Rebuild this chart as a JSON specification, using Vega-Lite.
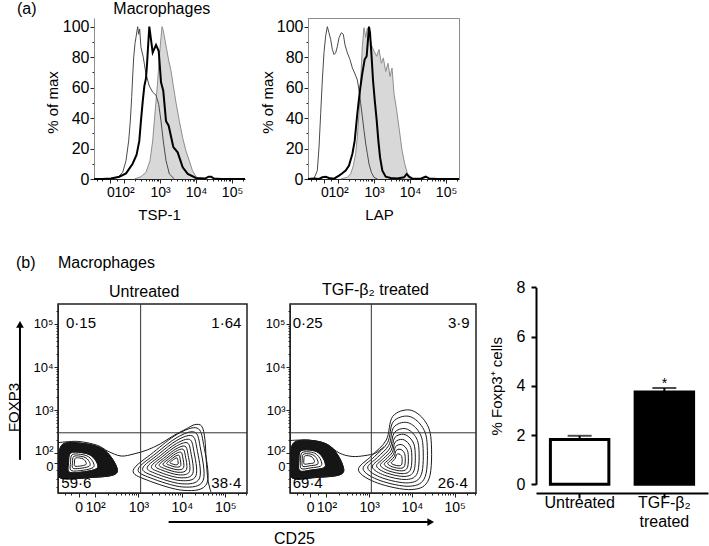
{
  "$schema": "https://vega.github.io/schema/vega-lite/v6.json",
  "background": "white",
  "padding": {"left": 5, "top": 1, "right": 5, "bottom": 5},
  "config": {
    "font": "Liberation Sans",
    "view": {"stroke": null},
    "axis": {"labelColor": "black", "titleColor": "black", "tickColor": "#222", "domainColor": "#222", "grid": false, "titleFontWeight": "normal", "labelFont": "Liberation Sans", "titleFont": "Liberation Sans"},
    "title": {"fontSize": 16, "fontWeight": "normal", "color": "black", "font": "Liberation Sans"}
  },
  "datasets": {
    "h1": [
      {"c":"iso","x":1.6,"y":0},{"c":"iso","x":1.825,"y":1},{"c":"iso","x":1.964,"y":4.4},{"c":"iso","x":2.056,"y":12},{"c":"iso","x":2.13,"y":25},{"c":"iso","x":2.175,"y":38},{"c":"iso","x":2.214,"y":54},{"c":"iso","x":2.24,"y":67},{"c":"iso","x":2.27,"y":80},{"c":"iso","x":2.306,"y":89},{"c":"iso","x":2.333,"y":93},{"c":"iso","x":2.38,"y":100},{"c":"iso","x":2.407,"y":95},{"c":"iso","x":2.435,"y":98.5},{"c":"iso","x":2.47,"y":86.5},{"c":"iso","x":2.535,"y":80},{"c":"iso","x":2.61,"y":69},{"c":"iso","x":2.703,"y":61},{"c":"iso","x":2.797,"y":57},{"c":"iso","x":2.889,"y":55},{"c":"iso","x":2.964,"y":49},{"c":"iso","x":3.028,"y":38},{"c":"iso","x":3.09,"y":25},{"c":"iso","x":3.167,"y":12},{"c":"iso","x":3.26,"y":3.3},{"c":"iso","x":3.4,"y":0},
      {"c":"fill","x":2.287,"y":0},{"c":"fill","x":2.47,"y":1.5},{"c":"fill","x":2.61,"y":4.4},{"c":"fill","x":2.722,"y":12},{"c":"fill","x":2.797,"y":25},{"c":"fill","x":2.842,"y":38},{"c":"fill","x":2.889,"y":51},{"c":"fill","x":2.936,"y":64.5},{"c":"fill","x":2.98,"y":80},{"c":"fill","x":3.028,"y":93},{"c":"fill","x":3.056,"y":100},{"c":"fill","x":3.09,"y":97.4},{"c":"fill","x":3.14,"y":91},{"c":"fill","x":3.186,"y":85},{"c":"fill","x":3.24,"y":78},{"c":"fill","x":3.306,"y":71},{"c":"fill","x":3.37,"y":61},{"c":"fill","x":3.445,"y":50},{"c":"fill","x":3.536,"y":38},{"c":"fill","x":3.63,"y":27},{"c":"fill","x":3.72,"y":18.5},{"c":"fill","x":3.814,"y":12},{"c":"fill","x":3.9,"y":5.5},{"c":"fill","x":4.0,"y":1.5},{"c":"fill","x":4.09,"y":0},
      {"c":"trt","x":1.167,"y":0},{"c":"trt","x":1.4,"y":0},{"c":"trt","x":1.639,"y":0.3},{"c":"trt","x":1.87,"y":1.5},{"c":"trt","x":2.056,"y":3.7},{"c":"trt","x":2.24,"y":10},{"c":"trt","x":2.35,"y":16},{"c":"trt","x":2.425,"y":25},{"c":"trt","x":2.47,"y":38},{"c":"trt","x":2.52,"y":51},{"c":"trt","x":2.565,"y":61},{"c":"trt","x":2.61,"y":66},{"c":"trt","x":2.64,"y":75.5},{"c":"trt","x":2.667,"y":86.5},{"c":"trt","x":2.703,"y":100},{"c":"trt","x":2.797,"y":83},{"c":"trt","x":2.889,"y":88},{"c":"trt","x":2.964,"y":84},{"c":"trt","x":3.028,"y":63.5},{"c":"trt","x":3.09,"y":58},{"c":"trt","x":3.167,"y":38},{"c":"trt","x":3.24,"y":35},{"c":"trt","x":3.37,"y":21},{"c":"trt","x":3.49,"y":17.5},{"c":"trt","x":3.63,"y":7.7},{"c":"trt","x":3.77,"y":3.3},{"c":"trt","x":4.0,"y":0.7},{"c":"trt","x":4.25,"y":0.3},{"c":"trt","x":4.35,"y":1.5},{"c":"trt","x":4.42,"y":1.5},{"c":"trt","x":4.5,"y":0.3},{"c":"trt","x":4.7,"y":0},{"c":"trt","x":5.36,"y":0}
    ],
    "h2": [
      {"c":"iso","x":1.25,"y":0},{"c":"iso","x":1.334,"y":0.3},{"c":"iso","x":1.426,"y":5.5},{"c":"iso","x":1.473,"y":21},{"c":"iso","x":1.519,"y":43},{"c":"iso","x":1.565,"y":65},{"c":"iso","x":1.611,"y":83},{"c":"iso","x":1.658,"y":94},{"c":"iso","x":1.704,"y":100},{"c":"iso","x":1.75,"y":96},{"c":"iso","x":1.797,"y":91.6},{"c":"iso","x":1.843,"y":85},{"c":"iso","x":1.89,"y":81.7},{"c":"iso","x":1.935,"y":82.8},{"c":"iso","x":1.982,"y":87},{"c":"iso","x":2.028,"y":92.7},{"c":"iso","x":2.093,"y":96},{"c":"iso","x":2.148,"y":95},{"c":"iso","x":2.195,"y":88},{"c":"iso","x":2.26,"y":82.8},{"c":"iso","x":2.333,"y":78.4},{"c":"iso","x":2.4,"y":72.8},{"c":"iso","x":2.463,"y":69.5},{"c":"iso","x":2.537,"y":65},{"c":"iso","x":2.583,"y":58.5},{"c":"iso","x":2.63,"y":49.7},{"c":"iso","x":2.676,"y":40.8},{"c":"iso","x":2.722,"y":32},{"c":"iso","x":2.77,"y":23},{"c":"iso","x":2.815,"y":16.6},{"c":"iso","x":2.86,"y":10},{"c":"iso","x":2.926,"y":4.4},{"c":"iso","x":3.0,"y":1.1},{"c":"iso","x":3.093,"y":0},
      {"c":"fill","x":2.074,"y":0},{"c":"fill","x":2.26,"y":1.1},{"c":"fill","x":2.352,"y":3.3},{"c":"fill","x":2.426,"y":8.8},{"c":"fill","x":2.49,"y":16.6},{"c":"fill","x":2.537,"y":27.6},{"c":"fill","x":2.583,"y":43},{"c":"fill","x":2.63,"y":65},{"c":"fill","x":2.676,"y":87},{"c":"fill","x":2.722,"y":99.3},{"c":"fill","x":2.77,"y":93},{"c":"fill","x":2.815,"y":99},{"c":"fill","x":2.861,"y":96},{"c":"fill","x":2.926,"y":88},{"c":"fill","x":3.0,"y":84},{"c":"fill","x":3.074,"y":80.6},{"c":"fill","x":3.139,"y":85},{"c":"fill","x":3.204,"y":76},{"c":"fill","x":3.26,"y":79.5},{"c":"fill","x":3.324,"y":70.6},{"c":"fill","x":3.389,"y":76},{"c":"fill","x":3.445,"y":67.3},{"c":"fill","x":3.5,"y":72.8},{"c":"fill","x":3.556,"y":56},{"c":"fill","x":3.63,"y":45},{"c":"fill","x":3.704,"y":32},{"c":"fill","x":3.778,"y":18.8},{"c":"fill","x":3.852,"y":10},{"c":"fill","x":3.926,"y":3.8},{"c":"fill","x":4.02,"y":0.7},{"c":"fill","x":4.11,"y":0},
      {"c":"trt","x":1.167,"y":0},{"c":"trt","x":1.334,"y":0.4},{"c":"trt","x":1.473,"y":0},{"c":"trt","x":1.565,"y":1.1},{"c":"trt","x":1.658,"y":1.5},{"c":"trt","x":1.75,"y":0.7},{"c":"trt","x":1.89,"y":0.2},{"c":"trt","x":2.028,"y":2.2},{"c":"trt","x":2.12,"y":3.8},{"c":"trt","x":2.213,"y":5.5},{"c":"trt","x":2.306,"y":8.8},{"c":"trt","x":2.4,"y":16.6},{"c":"trt","x":2.463,"y":25},{"c":"trt","x":2.537,"y":43},{"c":"trt","x":2.611,"y":58.5},{"c":"trt","x":2.676,"y":69.5},{"c":"trt","x":2.74,"y":78.4},{"c":"trt","x":2.796,"y":80.6},{"c":"trt","x":2.833,"y":91.6},{"c":"trt","x":2.861,"y":100},{"c":"trt","x":2.889,"y":96},{"c":"trt","x":2.926,"y":83},{"c":"trt","x":2.972,"y":65},{"c":"trt","x":3.019,"y":52},{"c":"trt","x":3.074,"y":38.6},{"c":"trt","x":3.12,"y":25.4},{"c":"trt","x":3.167,"y":14.3},{"c":"trt","x":3.232,"y":5.5},{"c":"trt","x":3.325,"y":1.5},{"c":"trt","x":3.463,"y":0.7},{"c":"trt","x":3.648,"y":0.4},{"c":"trt","x":3.833,"y":1.1},{"c":"trt","x":3.907,"y":3.3},{"c":"trt","x":3.972,"y":1.5},{"c":"trt","x":4.065,"y":0.2},{"c":"trt","x":4.296,"y":0.2},{"c":"trt","x":4.435,"y":1.5},{"c":"trt","x":4.528,"y":0.4},{"c":"trt","x":4.76,"y":0},{"c":"trt","x":5.36,"y":0}
    ],
    "c1r": [
      {"r":"L1","k":1,"x":1.16,"y":1.75},{"r":"L1","k":2,"x":1.25,"y":2.2},{"r":"L1","k":3,"x":1.75,"y":2.22},{"r":"L1","k":4,"x":2.2,"y":2.08},{"r":"L1","k":5,"x":2.48,"y":1.72},{"r":"L1","k":6,"x":2.45,"y":1.5},{"r":"L1","k":7,"x":1.9,"y":1.43},{"r":"L1","k":8,"x":1.2,"y":1.42},
      {"r":"L2","k":1,"x":1.206,"y":1.755},{"r":"L2","k":2,"x":1.287,"y":2.16},{"r":"L2","k":3,"x":1.737,"y":2.178},{"r":"L2","k":4,"x":2.142,"y":2.052},{"r":"L2","k":5,"x":2.394,"y":1.728},{"r":"L2","k":6,"x":2.367,"y":1.53},{"r":"L2","k":7,"x":1.872,"y":1.46},{"r":"L2","k":8,"x":1.242,"y":1.45},
      {"r":"L3","k":1,"x":1.252,"y":1.76},{"r":"L3","k":2,"x":1.324,"y":2.12},{"r":"L3","k":3,"x":1.724,"y":2.136},{"r":"L3","k":4,"x":2.084,"y":2.024},{"r":"L3","k":5,"x":2.308,"y":1.736},{"r":"L3","k":6,"x":2.284,"y":1.56},{"r":"L3","k":7,"x":1.844,"y":1.49},{"r":"L3","k":8,"x":1.284,"y":1.48},
      {"r":"L4","k":1,"x":1.298,"y":1.765},{"r":"L4","k":2,"x":1.361,"y":2.08},{"r":"L4","k":3,"x":1.711,"y":2.094},{"r":"L4","k":4,"x":2.026,"y":1.996},{"r":"L4","k":5,"x":2.222,"y":1.744},{"r":"L4","k":6,"x":2.201,"y":1.585},{"r":"L4","k":7,"x":1.816,"y":1.515},{"r":"L4","k":8,"x":1.326,"y":1.505},
      {"r":"L5","k":1,"x":1.344,"y":1.77},{"r":"L5","k":2,"x":1.398,"y":2.04},{"r":"L5","k":3,"x":1.698,"y":2.052},{"r":"L5","k":4,"x":1.968,"y":1.968},{"r":"L5","k":5,"x":2.136,"y":1.752},{"r":"L5","k":6,"x":2.118,"y":1.61},{"r":"L5","k":7,"x":1.788,"y":1.54},{"r":"L5","k":8,"x":1.368,"y":1.53},
      {"r":"L6","k":1,"x":1.39,"y":1.775},{"r":"L6","k":2,"x":1.435,"y":2.0},{"r":"L6","k":3,"x":1.685,"y":2.01},{"r":"L6","k":4,"x":1.91,"y":1.94},{"r":"L6","k":5,"x":2.05,"y":1.76},{"r":"L6","k":6,"x":2.035,"y":1.635},{"r":"L6","k":7,"x":1.76,"y":1.565},{"r":"L6","k":8,"x":1.41,"y":1.555},
      {"r":"L7","k":1,"x":1.436,"y":1.78},{"r":"L7","k":2,"x":1.472,"y":1.96},{"r":"L7","k":3,"x":1.672,"y":1.968},{"r":"L7","k":4,"x":1.852,"y":1.912},{"r":"L7","k":5,"x":1.964,"y":1.768},{"r":"L7","k":6,"x":1.952,"y":1.66},{"r":"L7","k":7,"x":1.732,"y":1.6},{"r":"L7","k":8,"x":1.452,"y":1.592},
      {"r":"L8","k":1,"x":1.482,"y":1.785},{"r":"L8","k":2,"x":1.509,"y":1.92},{"r":"L8","k":3,"x":1.659,"y":1.926},{"r":"L8","k":4,"x":1.794,"y":1.884},{"r":"L8","k":5,"x":1.878,"y":1.776},{"r":"L8","k":6,"x":1.869,"y":1.695},{"r":"L8","k":7,"x":1.704,"y":1.65},{"r":"L8","k":8,"x":1.494,"y":1.644},
      {"r":"L9","k":1,"x":1.528,"y":1.79},{"r":"L9","k":2,"x":1.546,"y":1.88},{"r":"L9","k":3,"x":1.646,"y":1.884},{"r":"L9","k":4,"x":1.736,"y":1.856},{"r":"L9","k":5,"x":1.792,"y":1.784},{"r":"L9","k":6,"x":1.786,"y":1.73},{"r":"L9","k":7,"x":1.676,"y":1.7},{"r":"L9","k":8,"x":1.536,"y":1.696},
      {"r":"R1","k":1,"x":2.88,"y":1.6},{"r":"R1","k":2,"x":3.35,"y":2.02},{"r":"R1","k":3,"x":3.9,"y":2.44},{"r":"R1","k":4,"x":4.35,"y":2.58},{"r":"R1","k":5,"x":4.5,"y":2.2},{"r":"R1","k":6,"x":4.58,"y":1.3},{"r":"R1","k":7,"x":4.05,"y":1.13},{"r":"R1","k":8,"x":3.2,"y":1.37},
      {"r":"R2","k":1,"x":2.994,"y":1.624},{"r":"R2","k":2,"x":3.408,"y":1.994},{"r":"R2","k":3,"x":3.892,"y":2.363},{"r":"R2","k":4,"x":4.288,"y":2.486},{"r":"R2","k":5,"x":4.42,"y":2.152},{"r":"R2","k":6,"x":4.49,"y":1.36},{"r":"R2","k":7,"x":4.024,"y":1.21},{"r":"R2","k":8,"x":3.276,"y":1.422},
      {"r":"R3","k":1,"x":3.098,"y":1.646},{"r":"R3","k":2,"x":3.46,"y":1.969},{"r":"R3","k":3,"x":3.884,"y":2.293},{"r":"R3","k":4,"x":4.23,"y":2.401},{"r":"R3","k":5,"x":4.346,"y":2.108},{"r":"R3","k":6,"x":4.408,"y":1.415},{"r":"R3","k":7,"x":3.999,"y":1.284},{"r":"R3","k":8,"x":3.345,"y":1.469},
      {"r":"R4","k":1,"x":3.203,"y":1.668},{"r":"R4","k":2,"x":3.513,"y":1.945},{"r":"R4","k":3,"x":3.876,"y":2.222},{"r":"R4","k":4,"x":4.173,"y":2.315},{"r":"R4","k":5,"x":4.272,"y":2.064},{"r":"R4","k":6,"x":4.325,"y":1.47},{"r":"R4","k":7,"x":3.975,"y":1.358},{"r":"R4","k":8,"x":3.414,"y":1.516},
      {"r":"R5","k":1,"x":3.298,"y":1.688},{"r":"R5","k":2,"x":3.561,"y":1.923},{"r":"R5","k":3,"x":3.869,"y":2.158},{"r":"R5","k":4,"x":4.121,"y":2.237},{"r":"R5","k":5,"x":4.205,"y":2.024},{"r":"R5","k":6,"x":4.25,"y":1.52},{"r":"R5","k":7,"x":3.953,"y":1.425},{"r":"R5","k":8,"x":3.477,"y":1.559},
      {"r":"R6","k":1,"x":3.393,"y":1.708},{"r":"R6","k":2,"x":3.609,"y":1.901},{"r":"R6","k":3,"x":3.862,"y":2.094},{"r":"R6","k":4,"x":4.069,"y":2.159},{"r":"R6","k":5,"x":4.138,"y":1.984},{"r":"R6","k":6,"x":4.175,"y":1.57},{"r":"R6","k":7,"x":3.931,"y":1.492},{"r":"R6","k":8,"x":3.54,"y":1.602},
      {"r":"R7","k":1,"x":3.478,"y":1.726},{"r":"R7","k":2,"x":3.652,"y":1.881},{"r":"R7","k":3,"x":3.856,"y":2.037},{"r":"R7","k":4,"x":4.022,"y":2.089},{"r":"R7","k":5,"x":4.078,"y":1.948},{"r":"R7","k":6,"x":4.108,"y":1.615},{"r":"R7","k":7,"x":3.911,"y":1.552},{"r":"R7","k":8,"x":3.597,"y":1.641},
      {"r":"R8","k":1,"x":3.564,"y":1.744},{"r":"R8","k":2,"x":3.696,"y":1.862},{"r":"R8","k":3,"x":3.85,"y":1.979},{"r":"R8","k":4,"x":3.976,"y":2.018},{"r":"R8","k":5,"x":4.018,"y":1.912},{"r":"R8","k":6,"x":4.04,"y":1.66},{"r":"R8","k":7,"x":3.892,"y":1.612},{"r":"R8","k":8,"x":3.654,"y":1.68},
      {"r":"R9","k":1,"x":3.649,"y":1.762},{"r":"R9","k":2,"x":3.739,"y":1.842},{"r":"R9","k":3,"x":3.843,"y":1.922},{"r":"R9","k":4,"x":3.929,"y":1.948},{"r":"R9","k":5,"x":3.957,"y":1.876},{"r":"R9","k":6,"x":3.973,"y":1.705},{"r":"R9","k":7,"x":3.872,"y":1.673},{"r":"R9","k":8,"x":3.71,"y":1.718},
      {"r":"R10","k":1,"x":3.725,"y":1.778},{"r":"R10","k":2,"x":3.777,"y":1.824},{"r":"R10","k":3,"x":3.838,"y":1.87},{"r":"R10","k":4,"x":3.887,"y":1.886},{"r":"R10","k":5,"x":3.904,"y":1.844},{"r":"R10","k":6,"x":3.913,"y":1.745},{"r":"R10","k":7,"x":3.854,"y":1.726},{"r":"R10","k":8,"x":3.761,"y":1.753}
    ],
    "c1b": [
      {"k":1,"x":1.15,"y":2.24},{"k":2,"x":1.6,"y":2.27},{"k":3,"x":2.05,"y":2.18},{"k":4,"x":2.3,"y":2.04},{"k":5,"x":2.6,"y":1.93},{"k":6,"x":2.9,"y":1.98},{"k":7,"x":3.2,"y":2.07},{"k":8,"x":3.5,"y":2.21},{"k":9,"x":3.8,"y":2.4},{"k":10,"x":4.1,"y":2.56},{"k":11,"x":4.3,"y":2.66},{"k":12,"x":4.46,"y":2.62},{"k":13,"x":4.53,"y":2.32},{"k":14,"x":4.56,"y":1.85},{"k":15,"x":4.6,"y":1.38},{"k":16,"x":4.67,"y":1.09}
    ],
    "c2r": [
      {"r":"L1","k":1,"x":1.16,"y":1.8},{"r":"L1","k":2,"x":1.25,"y":2.25},{"r":"L1","k":3,"x":1.8,"y":2.27},{"r":"L1","k":4,"x":2.15,"y":2.1},{"r":"L1","k":5,"x":2.38,"y":1.72},{"r":"L1","k":6,"x":2.33,"y":1.5},{"r":"L1","k":7,"x":1.75,"y":1.43},{"r":"L1","k":8,"x":1.2,"y":1.42},
      {"r":"L2","k":1,"x":1.199,"y":1.805},{"r":"L2","k":2,"x":1.28,"y":2.21},{"r":"L2","k":3,"x":1.775,"y":2.228},{"r":"L2","k":4,"x":2.09,"y":2.075},{"r":"L2","k":5,"x":2.297,"y":1.733},{"r":"L2","k":6,"x":2.252,"y":1.53},{"r":"L2","k":7,"x":1.73,"y":1.46},{"r":"L2","k":8,"x":1.235,"y":1.45},
      {"r":"L3","k":1,"x":1.238,"y":1.81},{"r":"L3","k":2,"x":1.31,"y":2.17},{"r":"L3","k":3,"x":1.75,"y":2.186},{"r":"L3","k":4,"x":2.03,"y":2.05},{"r":"L3","k":5,"x":2.214,"y":1.746},{"r":"L3","k":6,"x":2.174,"y":1.56},{"r":"L3","k":7,"x":1.71,"y":1.49},{"r":"L3","k":8,"x":1.27,"y":1.48},
      {"r":"L4","k":1,"x":1.277,"y":1.815},{"r":"L4","k":2,"x":1.34,"y":2.13},{"r":"L4","k":3,"x":1.725,"y":2.144},{"r":"L4","k":4,"x":1.97,"y":2.025},{"r":"L4","k":5,"x":2.131,"y":1.759},{"r":"L4","k":6,"x":2.096,"y":1.59},{"r":"L4","k":7,"x":1.69,"y":1.52},{"r":"L4","k":8,"x":1.305,"y":1.505},
      {"r":"L5","k":1,"x":1.316,"y":1.82},{"r":"L5","k":2,"x":1.37,"y":2.09},{"r":"L5","k":3,"x":1.7,"y":2.102},{"r":"L5","k":4,"x":1.91,"y":2.0},{"r":"L5","k":5,"x":2.048,"y":1.772},{"r":"L5","k":6,"x":2.018,"y":1.616},{"r":"L5","k":7,"x":1.67,"y":1.556},{"r":"L5","k":8,"x":1.34,"y":1.535},
      {"r":"L6","k":1,"x":1.355,"y":1.825},{"r":"L6","k":2,"x":1.4,"y":2.05},{"r":"L6","k":3,"x":1.675,"y":2.06},{"r":"L6","k":4,"x":1.85,"y":1.975},{"r":"L6","k":5,"x":1.965,"y":1.785},{"r":"L6","k":6,"x":1.94,"y":1.655},{"r":"L6","k":7,"x":1.65,"y":1.605},{"r":"L6","k":8,"x":1.375,"y":1.585},
      {"r":"L7","k":1,"x":1.394,"y":1.83},{"r":"L7","k":2,"x":1.43,"y":2.01},{"r":"L7","k":3,"x":1.65,"y":2.018},{"r":"L7","k":4,"x":1.79,"y":1.95},{"r":"L7","k":5,"x":1.882,"y":1.798},{"r":"L7","k":6,"x":1.862,"y":1.694},{"r":"L7","k":7,"x":1.63,"y":1.654},{"r":"L7","k":8,"x":1.41,"y":1.638},
      {"r":"L8","k":1,"x":1.433,"y":1.835},{"r":"L8","k":2,"x":1.46,"y":1.97},{"r":"L8","k":3,"x":1.625,"y":1.976},{"r":"L8","k":4,"x":1.73,"y":1.925},{"r":"L8","k":5,"x":1.799,"y":1.811},{"r":"L8","k":6,"x":1.784,"y":1.733},{"r":"L8","k":7,"x":1.61,"y":1.703},{"r":"L8","k":8,"x":1.445,"y":1.691},
      {"r":"L9","k":1,"x":1.472,"y":1.84},{"r":"L9","k":2,"x":1.49,"y":1.93},{"r":"L9","k":3,"x":1.6,"y":1.934},{"r":"L9","k":4,"x":1.67,"y":1.9},{"r":"L9","k":5,"x":1.716,"y":1.824},{"r":"L9","k":6,"x":1.706,"y":1.772},{"r":"L9","k":7,"x":1.59,"y":1.752},{"r":"L9","k":8,"x":1.48,"y":1.744},
      {"r":"R1","k":1,"x":2.75,"y":1.6},{"r":"R1","k":2,"x":3.05,"y":1.93},{"r":"R1","k":3,"x":3.4,"y":2.3},{"r":"R1","k":4,"x":3.55,"y":2.85},{"r":"R1","k":5,"x":3.95,"y":3.0},{"r":"R1","k":6,"x":4.3,"y":2.75},{"r":"R1","k":7,"x":4.45,"y":2.3},{"r":"R1","k":8,"x":4.4,"y":1.4},{"r":"R1","k":9,"x":4.0,"y":1.15},{"r":"R1","k":10,"x":3.2,"y":1.3},
      {"r":"R2","k":1,"x":2.858,"y":1.624},{"r":"R2","k":2,"x":3.122,"y":1.914},{"r":"R2","k":3,"x":3.43,"y":2.24},{"r":"R2","k":4,"x":3.562,"y":2.724},{"r":"R2","k":5,"x":3.914,"y":2.856},{"r":"R2","k":6,"x":4.222,"y":2.636},{"r":"R2","k":7,"x":4.354,"y":2.24},{"r":"R2","k":8,"x":4.31,"y":1.448},{"r":"R2","k":9,"x":3.958,"y":1.228},{"r":"R2","k":10,"x":3.254,"y":1.36},
      {"r":"R3","k":1,"x":2.966,"y":1.648},{"r":"R3","k":2,"x":3.194,"y":1.899},{"r":"R3","k":3,"x":3.46,"y":2.18},{"r":"R3","k":4,"x":3.574,"y":2.598},{"r":"R3","k":5,"x":3.878,"y":2.712},{"r":"R3","k":6,"x":4.144,"y":2.522},{"r":"R3","k":7,"x":4.258,"y":2.18},{"r":"R3","k":8,"x":4.22,"y":1.496},{"r":"R3","k":9,"x":3.916,"y":1.306},{"r":"R3","k":10,"x":3.308,"y":1.42},
      {"r":"R4","k":1,"x":3.074,"y":1.672},{"r":"R4","k":2,"x":3.266,"y":1.883},{"r":"R4","k":3,"x":3.49,"y":2.12},{"r":"R4","k":4,"x":3.586,"y":2.472},{"r":"R4","k":5,"x":3.842,"y":2.568},{"r":"R4","k":6,"x":4.066,"y":2.408},{"r":"R4","k":7,"x":4.162,"y":2.12},{"r":"R4","k":8,"x":4.13,"y":1.544},{"r":"R4","k":9,"x":3.874,"y":1.384},{"r":"R4","k":10,"x":3.362,"y":1.48},
      {"r":"R5","k":1,"x":3.173,"y":1.694},{"r":"R5","k":2,"x":3.332,"y":1.869},{"r":"R5","k":3,"x":3.517,"y":2.065},{"r":"R5","k":4,"x":3.597,"y":2.357},{"r":"R5","k":5,"x":3.809,"y":2.436},{"r":"R5","k":6,"x":3.995,"y":2.304},{"r":"R5","k":7,"x":4.074,"y":2.065},{"r":"R5","k":8,"x":4.048,"y":1.588},{"r":"R5","k":9,"x":3.836,"y":1.455},{"r":"R5","k":10,"x":3.411,"y":1.535},
      {"r":"R6","k":1,"x":3.263,"y":1.714},{"r":"R6","k":2,"x":3.392,"y":1.856},{"r":"R6","k":3,"x":3.542,"y":2.015},{"r":"R6","k":4,"x":3.607,"y":2.252},{"r":"R6","k":5,"x":3.779,"y":2.316},{"r":"R6","k":6,"x":3.93,"y":2.209},{"r":"R6","k":7,"x":3.994,"y":2.015},{"r":"R6","k":8,"x":3.973,"y":1.628},{"r":"R6","k":9,"x":3.801,"y":1.52},{"r":"R6","k":10,"x":3.456,"y":1.585},
      {"r":"R7","k":1,"x":3.353,"y":1.734},{"r":"R7","k":2,"x":3.452,"y":1.843},{"r":"R7","k":3,"x":3.567,"y":1.965},{"r":"R7","k":4,"x":3.617,"y":2.147},{"r":"R7","k":5,"x":3.749,"y":2.196},{"r":"R7","k":6,"x":3.865,"y":2.114},{"r":"R7","k":7,"x":3.914,"y":1.965},{"r":"R7","k":8,"x":3.898,"y":1.668},{"r":"R7","k":9,"x":3.766,"y":1.585},{"r":"R7","k":10,"x":3.501,"y":1.635},
      {"r":"R8","k":1,"x":3.434,"y":1.752},{"r":"R8","k":2,"x":3.506,"y":1.831},{"r":"R8","k":3,"x":3.59,"y":1.92},{"r":"R8","k":4,"x":3.626,"y":2.052},{"r":"R8","k":5,"x":3.722,"y":2.088},{"r":"R8","k":6,"x":3.806,"y":2.028},{"r":"R8","k":7,"x":3.842,"y":1.92},{"r":"R8","k":8,"x":3.83,"y":1.704},{"r":"R8","k":9,"x":3.734,"y":1.644},{"r":"R8","k":10,"x":3.542,"y":1.68},
      {"r":"R9","k":1,"x":3.515,"y":1.77},{"r":"R9","k":2,"x":3.56,"y":1.82},{"r":"R9","k":3,"x":3.612,"y":1.875},{"r":"R9","k":4,"x":3.635,"y":1.958},{"r":"R9","k":5,"x":3.695,"y":1.98},{"r":"R9","k":6,"x":3.748,"y":1.943},{"r":"R9","k":7,"x":3.77,"y":1.875},{"r":"R9","k":8,"x":3.763,"y":1.74},{"r":"R9","k":9,"x":3.703,"y":1.702},{"r":"R9","k":10,"x":3.582,"y":1.725}
    ],
    "c2b": [
      {"k":1,"x":1.15,"y":2.29},{"k":2,"x":1.6,"y":2.3},{"k":3,"x":2.0,"y":2.21},{"k":4,"x":2.3,"y":2.0},{"k":5,"x":2.6,"y":1.92},{"k":6,"x":2.9,"y":1.94},{"k":7,"x":3.15,"y":2.0},{"k":8,"x":3.35,"y":2.15}
    ],
    "q1": [
      {"t":"0·15","a":"L","x":1.33,"y":5.02},{"t":"1·64","a":"R","x":5.37,"y":5.02},{"t":"59·6","a":"L","x":1.223,"y":1.295},{"t":"38·4","a":"R","x":5.37,"y":1.295}
    ],
    "q2": [
      {"t":"0·25","a":"L","x":1.21,"y":5.02},{"t":"3·9","a":"R","x":5.35,"y":5.02},{"t":"69·4","a":"L","x":1.21,"y":1.295},{"t":"26·4","a":"R","x":5.31,"y":1.295}
    ],
    "g1": [
      {"k":"gv","x":3.05,"y":1.07,"y2":5.465},
      {"k":"gh","x":1.147,"x2":5.5,"y":2.47},
      {"k":"arrow","x":0.271,"y":1.84,"y2":4.95},
      {"k":"head","x":0.271,"y":4.99},
      {"k":"lab","x":2.322,"y":5.628,"t":"Untreated"}
    ],
    "g2": [
      {"k":"gv","x":3.05,"y":1.07,"y2":5.465},
      {"k":"gh","x":1.147,"x2":5.5,"y":2.47},
      {"k":"arrow","x":-1.694,"x2":4.4,"y":0.395},
      {"k":"head","x":4.44,"y":0.395}
    ],
    "bars": [
      {"g":"Untreated","v":1.82,"hi":1.97,"sig":""},
      {"g":"TGF-β₂ treated","v":3.75,"hi":3.91,"sig":"*"}
    ]
  },
  "spacing": 31,
  "vconcat": [
    {
      "bounds": "flush",
      "spacing": 63,
      "hconcat": [
        {
          "width": 187, "height": 161,
          "title": {"text": "(a)\u2003\u2003\u2003\u2003\u2009\u2009\u2009\u2009Macrophages", "anchor": "start", "frame": "group", "dx": -41, "offset": 1},
          "data": {"name": "h1"},
          "encoding": {
            "x": {"field": "x", "type": "quantitative", "scale": {"domain": [1.167, 5.36], "nice": false, "zero": false, "range": [36, 187]},
              "axis": {"title": "TSP-1", "titleFontSize": 15, "titleX": 101, "titleY": 40, "titleBaseline": "alphabetic", "titleAlign": "center",
                "values": [1.25, 1.4, 1.625, 1.8, 2, 2.301, 2.477, 2.602, 2.699, 2.778, 2.845, 2.903, 2.954, 3, 3.301, 3.477, 3.602, 3.699, 3.778, 3.845, 3.903, 3.954, 4, 4.301, 4.477, 4.602, 4.699, 4.778, 4.845, 4.903, 4.954, 5, 5.301],
                "labelExpr": "datum.value == 1.625 ? '0' : datum.value == 2 ? '10²' : datum.value == 3 ? '10³' : datum.value == 4 ? '10⁴' : datum.value == 5 ? '10⁵' : ''",
                "labelOverlap": false, "labelFontSize": 14, "labelPadding": 2,
                "tickSize": {"condition": {"test": "datum.value == 1.625 || datum.value == 2 || datum.value == 3 || datum.value == 4 || datum.value == 5", "value": 4}, "value": 2}}},
            "y": {"field": "y", "type": "quantitative", "scale": {"domain": [0, 105.7], "nice": false},
              "axis": {"title": "% of max", "offset": -36, "titleFontSize": 15, "titleX": -37, "titleY": 84, "titleBaseline": "alphabetic",
                "values": [0, 10, 20, 30, 40, 50, 60, 70, 80, 90, 100],
                "labelExpr": "datum.value % 20 == 0 ? datum.label : ''",
                "labelFontSize": 16, "labelPadding": 1, "domainColor": "#8c8c8c",
                "tickSize": {"condition": {"test": "datum.value % 20 == 0", "value": 4}, "value": 2}}}
          },
          "layer": [
            {"transform": [{"filter": "datum.c == 'fill'"}], "mark": {"type": "area", "color": "#c8c8c8", "line": {"color": "#8e8e8e", "strokeWidth": 1}}},
            {"transform": [{"filter": "datum.c == 'iso'"}], "mark": {"type": "line", "color": "#4a4a4a", "strokeWidth": 1}},
            {"transform": [{"filter": "datum.c == 'trt'"}], "mark": {"type": "line", "color": "black", "strokeWidth": 2}},
            {
              "data": {"values": [{}]},
              "mark": {"type": "rule", "color": "#8c8c8c", "strokeWidth": 1},
              "encoding": {"x": {"datum": 1.167, "type": "quantitative"}, "x2": {"datum": 5.36}, "y": {"datum": 105.7, "type": "quantitative"}}
            },
            {
              "data": {"values": [{}]},
              "mark": {"type": "rule", "color": "#8c8c8c", "strokeWidth": 1},
              "encoding": {"x": {"datum": 5.36, "type": "quantitative"}, "y": {"datum": 0, "type": "quantitative"}, "y2": {"datum": 105.7}}
            }
          ]
        },
        {
          "width": 151, "height": 161,
          "view": {"stroke": "#8c8c8c"},
          "data": {"name": "h2"},
          "encoding": {
            "x": {"field": "x", "type": "quantitative", "scale": {"domain": [1.167, 5.36], "nice": false, "zero": false},
              "axis": {"title": "LAP", "titleFontSize": 15, "titleX": 71, "titleY": 40, "titleBaseline": "alphabetic", "titleAlign": "center",
                "values": [1.25, 1.4, 1.625, 1.8, 2, 2.301, 2.477, 2.602, 2.699, 2.778, 2.845, 2.903, 2.954, 3, 3.301, 3.477, 3.602, 3.699, 3.778, 3.845, 3.903, 3.954, 4, 4.301, 4.477, 4.602, 4.699, 4.778, 4.845, 4.903, 4.954, 5, 5.301],
                "labelExpr": "datum.value == 1.625 ? '0' : datum.value == 2 ? '10²' : datum.value == 3 ? '10³' : datum.value == 4 ? '10⁴' : datum.value == 5 ? '10⁵' : ''",
                "labelOverlap": false, "labelFontSize": 14, "labelPadding": 2,
                "tickSize": {"condition": {"test": "datum.value == 1.625 || datum.value == 2 || datum.value == 3 || datum.value == 4 || datum.value == 5", "value": 4}, "value": 2}}},
            "y": {"field": "y", "type": "quantitative", "scale": {"domain": [0, 105.7], "nice": false},
              "axis": {"title": "% of max", "titleFontSize": 15, "titleX": -36, "titleY": 84, "titleBaseline": "alphabetic",
                "values": [0, 10, 20, 30, 40, 50, 60, 70, 80, 90, 100],
                "labelExpr": "datum.value % 20 == 0 ? datum.label : ''",
                "labelFontSize": 16, "labelPadding": 1, "domainColor": "#8c8c8c",
                "tickSize": {"condition": {"test": "datum.value % 20 == 0", "value": 4}, "value": 2}}}
          },
          "layer": [
            {"transform": [{"filter": "datum.c == 'fill'"}], "mark": {"type": "area", "color": "#c8c8c8", "line": {"color": "#8e8e8e", "strokeWidth": 1}}},
            {"transform": [{"filter": "datum.c == 'iso'"}], "mark": {"type": "line", "color": "#4a4a4a", "strokeWidth": 1}},
            {"transform": [{"filter": "datum.c == 'trt'"}], "mark": {"type": "line", "color": "black", "strokeWidth": 2}}
          ]
        }
      ]
    },
    {
      "bounds": "flush",
      "spacing": 43,
      "hconcat": [
        {
          "width": 189, "height": 189,
          "title": {"text": "(b)\u2003\u2009\u2009Macrophages", "anchor": "start", "frame": "group", "dx": -42, "offset": 13},
          "view": {"stroke": "#222", "strokeWidth": 1.5},
          "encoding": {
            "x": {"field": "x", "type": "quantitative", "scale": {"domain": [1.147, 5.5], "nice": false, "zero": false},
              "axis": {"title": null,
                "values": [1.3, 1.45, 1.62, 1.8, 2, 2.301, 2.477, 2.602, 2.699, 2.778, 2.845, 2.903, 2.954, 3, 3.301, 3.477, 3.602, 3.699, 3.778, 3.845, 3.903, 3.954, 4, 4.301, 4.477, 4.602, 4.699, 4.778, 4.845, 4.903, 4.954, 5, 5.301, 5.477],
                "labelExpr": "datum.value == 1.62 ? '0' : datum.value == 2 ? '10²' : datum.value == 3 ? '10³' : datum.value == 4 ? '10⁴' : datum.value == 5 ? '10⁵' : ''",
                "labelOverlap": false, "labelFontSize": 14, "labelPadding": 3,
                "tickSize": {"condition": {"test": "datum.value == 1.62 || datum.value == 2 || datum.value == 3 || datum.value == 4 || datum.value == 5", "value": 4}, "value": 2}}},
            "y": {"field": "y", "type": "quantitative", "scale": {"domain": [1.07, 5.465], "nice": false, "zero": false},
              "axis": {"title": "FOXP3", "titleFontSize": 15, "titleX": -40, "titleY": 103, "titleBaseline": "alphabetic", "titleAngle": 270,
                "values": [1.2, 1.4, 1.6, 1.77, 2, 2.301, 2.477, 2.602, 2.699, 2.778, 2.845, 2.903, 2.954, 3, 3.301, 3.477, 3.602, 3.699, 3.778, 3.845, 3.903, 3.954, 4, 4.301, 4.477, 4.602, 4.699, 4.778, 4.845, 4.903, 4.954, 5, 5.301],
                "labelExpr": "datum.value == 1.77 ? '0' : datum.value == 2 ? '10²' : datum.value == 3 ? '10³' : datum.value == 4 ? '10⁴' : datum.value == 5 ? '10⁵' : ''",
                "labelOverlap": false, "labelFontSize": 13, "labelPadding": 1,
                "labelOffset": {"condition": [{"test": "datum.value == 1.77", "value": 4}, {"test": "datum.value == 2", "value": -3}], "value": 0},
                "tickSize": {"condition": {"test": "datum.value == 1.77 || datum.value == 2 || datum.value == 3 || datum.value == 4 || datum.value == 5", "value": 4}, "value": 2}}}
          },
          "layer": [
            {
              "data": {"name": "c1r"},
              "transform": [{"filter": "datum.r == 'L1'"}],
              "mark": {"type": "line", "interpolate": "cardinal-closed", "fill": "#141414", "stroke": "#141414", "strokeWidth": 1, "clip": true},
              "encoding": {"order": {"field": "k", "type": "quantitative"}}
            },
            {
              "data": {"name": "c1r"},
              "transform": [{"filter": "datum.r == 'L6'"}],
              "mark": {"type": "line", "interpolate": "cardinal-closed", "fill": "white", "stroke": "#141414", "strokeWidth": 1, "clip": true},
              "encoding": {"order": {"field": "k", "type": "quantitative"}}
            },
            {
              "data": {"name": "c1r"},
              "mark": {"type": "line", "interpolate": "cardinal-closed", "color": "#1a1a1a", "strokeWidth": 1, "clip": true},
              "encoding": {"detail": {"field": "r"}, "order": {"field": "k", "type": "quantitative"}}
            },
            {
              "data": {"name": "c1b"},
              "mark": {"type": "line", "interpolate": "cardinal", "color": "#1a1a1a", "strokeWidth": 1, "clip": true},
              "encoding": {"order": {"field": "k", "type": "quantitative"}}
            },
            {
              "data": {"name": "g1"},
              "transform": [{"filter": "datum.k == 'gv'"}],
              "mark": {"type": "rule", "color": "#333", "strokeWidth": 1},
              "encoding": {"y2": {"field": "y2"}}
            },
            {
              "data": {"name": "g1"},
              "transform": [{"filter": "datum.k == 'gh'"}],
              "mark": {"type": "rule", "color": "#333", "strokeWidth": 1},
              "encoding": {"x2": {"field": "x2"}}
            },
            {
              "data": {"name": "q1"},
              "transform": [{"filter": "datum.a == 'L'"}],
              "mark": {"type": "text", "align": "left", "baseline": "middle", "fontSize": 15, "color": "black"},
              "encoding": {"text": {"field": "t"}}
            },
            {
              "data": {"name": "q1"},
              "transform": [{"filter": "datum.a == 'R'"}],
              "mark": {"type": "text", "align": "right", "baseline": "middle", "fontSize": 15, "color": "black"},
              "encoding": {"text": {"field": "t"}}
            },
            {
              "data": {"name": "g1"},
              "transform": [{"filter": "datum.k == 'arrow'"}],
              "mark": {"type": "rule", "color": "black", "strokeWidth": 2},
              "encoding": {"y2": {"field": "y2"}}
            },
            {
              "data": {"name": "g1"},
              "transform": [{"filter": "datum.k == 'head'"}],
              "mark": {"type": "point", "shape": "triangle-up", "filled": true, "color": "black", "size": 60, "opacity": 1}
            },
            {
              "data": {"name": "g1"},
              "transform": [{"filter": "datum.k == 'lab'"}],
              "mark": {"type": "text", "align": "left", "baseline": "alphabetic", "fontSize": 16, "color": "black"},
              "encoding": {"text": {"field": "t"}}
            }
          ]
        },
        {
          "width": 186, "height": 189,
          "title": {"text": "TGF-β₂ treated", "anchor": "start", "frame": "group", "dx": 32, "offset": 6},
          "view": {"stroke": "#222", "strokeWidth": 1.5},
          "encoding": {
            "x": {"field": "x", "type": "quantitative", "scale": {"domain": [1.147, 5.5], "nice": false, "zero": false},
              "axis": {"title": "CD25", "titleFontSize": 16, "titleX": 4, "titleY": 50, "titleBaseline": "alphabetic", "titleAlign": "center",
                "values": [1.3, 1.45, 1.62, 1.8, 2, 2.301, 2.477, 2.602, 2.699, 2.778, 2.845, 2.903, 2.954, 3, 3.301, 3.477, 3.602, 3.699, 3.778, 3.845, 3.903, 3.954, 4, 4.301, 4.477, 4.602, 4.699, 4.778, 4.845, 4.903, 4.954, 5, 5.301, 5.477],
                "labelExpr": "datum.value == 1.62 ? '0' : datum.value == 2 ? '10²' : datum.value == 3 ? '10³' : datum.value == 4 ? '10⁴' : datum.value == 5 ? '10⁵' : ''",
                "labelOverlap": false, "labelFontSize": 14, "labelPadding": 3,
                "tickSize": {"condition": {"test": "datum.value == 1.62 || datum.value == 2 || datum.value == 3 || datum.value == 4 || datum.value == 5", "value": 4}, "value": 2}}},
            "y": {"field": "y", "type": "quantitative", "scale": {"domain": [1.07, 5.465], "nice": false, "zero": false},
              "axis": {"title": null,
                "values": [1.2, 1.4, 1.6, 1.77, 2, 2.301, 2.477, 2.602, 2.699, 2.778, 2.845, 2.903, 2.954, 3, 3.301, 3.477, 3.602, 3.699, 3.778, 3.845, 3.903, 3.954, 4, 4.301, 4.477, 4.602, 4.699, 4.778, 4.845, 4.903, 4.954, 5, 5.301],
                "labelExpr": "datum.value == 1.77 ? '0' : datum.value == 2 ? '10²' : datum.value == 3 ? '10³' : datum.value == 4 ? '10⁴' : datum.value == 5 ? '10⁵' : ''",
                "labelOverlap": false, "labelFontSize": 13, "labelPadding": 1,
                "labelOffset": {"condition": [{"test": "datum.value == 1.77", "value": 4}, {"test": "datum.value == 2", "value": -3}], "value": 0},
                "tickSize": {"condition": {"test": "datum.value == 1.77 || datum.value == 2 || datum.value == 3 || datum.value == 4 || datum.value == 5", "value": 4}, "value": 2}}}
          },
          "layer": [
            {
              "data": {"name": "c2r"},
              "transform": [{"filter": "datum.r == 'L1'"}],
              "mark": {"type": "line", "interpolate": "cardinal-closed", "fill": "#141414", "stroke": "#141414", "strokeWidth": 1, "clip": true},
              "encoding": {"order": {"field": "k", "type": "quantitative"}}
            },
            {
              "data": {"name": "c2r"},
              "transform": [{"filter": "datum.r == 'L6'"}],
              "mark": {"type": "line", "interpolate": "cardinal-closed", "fill": "white", "stroke": "#141414", "strokeWidth": 1, "clip": true},
              "encoding": {"order": {"field": "k", "type": "quantitative"}}
            },
            {
              "data": {"name": "c2r"},
              "mark": {"type": "line", "interpolate": "cardinal-closed", "color": "#1a1a1a", "strokeWidth": 1, "clip": true},
              "encoding": {"detail": {"field": "r"}, "order": {"field": "k", "type": "quantitative"}}
            },
            {
              "data": {"name": "c2b"},
              "mark": {"type": "line", "interpolate": "cardinal", "color": "#1a1a1a", "strokeWidth": 1, "clip": true},
              "encoding": {"order": {"field": "k", "type": "quantitative"}}
            },
            {
              "data": {"name": "g2"},
              "transform": [{"filter": "datum.k == 'gv'"}],
              "mark": {"type": "rule", "color": "#333", "strokeWidth": 1},
              "encoding": {"y2": {"field": "y2"}}
            },
            {
              "data": {"name": "g2"},
              "transform": [{"filter": "datum.k == 'gh'"}],
              "mark": {"type": "rule", "color": "#333", "strokeWidth": 1},
              "encoding": {"x2": {"field": "x2"}}
            },
            {
              "data": {"name": "q2"},
              "transform": [{"filter": "datum.a == 'L'"}],
              "mark": {"type": "text", "align": "left", "baseline": "middle", "fontSize": 15, "color": "black"},
              "encoding": {"text": {"field": "t"}}
            },
            {
              "data": {"name": "q2"},
              "transform": [{"filter": "datum.a == 'R'"}],
              "mark": {"type": "text", "align": "right", "baseline": "middle", "fontSize": 15, "color": "black"},
              "encoding": {"text": {"field": "t"}}
            },
            {
              "data": {"name": "g2"},
              "transform": [{"filter": "datum.k == 'arrow'"}],
              "mark": {"type": "rule", "color": "black", "strokeWidth": 2},
              "encoding": {"x2": {"field": "x2"}}
            },
            {
              "data": {"name": "g2"},
              "transform": [{"filter": "datum.k == 'head'"}],
              "mark": {"type": "point", "shape": "triangle-right", "filled": true, "color": "black", "size": 60, "opacity": 1}
            }
          ]
        },
        {
          "width": 189, "height": 189,
          "data": {"name": "bars"},
          "layer": [
            {
              "mark": {"type": "bar", "stroke": "black", "strokeWidth": 3},
              "encoding": {
                "x": {"field": "g", "type": "nominal", "sort": ["Untreated", "TGF-β₂ treated"], "scale": {"range": [17, 189], "paddingInner": 0.31, "paddingOuter": 0.17},
                  "axis": {"title": null, "labelAngle": 0, "labelFontSize": 16, "labelPadding": -4, "tickSize": 5, "tickWidth": 2, "tickColor": "black", "domainWidth": 2, "domainColor": "black", "labelLineHeight": 19,
                    "labelExpr": "datum.label == 'Untreated' ? 'Untreated' : ['TGF-β₂', 'treated']"}},
                "y": {"field": "v", "type": "quantitative", "scale": {"domain": [0, 8], "nice": false, "range": [180.3, -16.7]},
                  "axis": {"title": "% Foxp3⁺ cells", "offset": -17, "titleFontSize": 15, "titleX": -35, "titleBaseline": "alphabetic", "values": [0, 2, 4, 6, 8], "labelFontSize": 16, "labelPadding": 6, "tickSize": 5, "tickWidth": 2, "tickColor": "black", "domainWidth": 2, "domainColor": "black"}},
                "color": {"field": "g", "type": "nominal", "scale": {"domain": ["Untreated", "TGF-β₂ treated"], "range": ["white", "black"]}, "legend": null}
              }
            },
            {
              "mark": {"type": "rule", "color": "black", "strokeWidth": 2},
              "encoding": {
                "x": {"field": "g", "type": "nominal", "sort": ["Untreated", "TGF-β₂ treated"]},
                "y": {"field": "v", "type": "quantitative"},
                "y2": {"field": "hi"}
              }
            },
            {
              "mark": {"type": "tick", "orient": "horizontal", "color": "black", "thickness": 2, "size": 24},
              "encoding": {
                "x": {"field": "g", "type": "nominal", "sort": ["Untreated", "TGF-β₂ treated"]},
                "y": {"field": "hi", "type": "quantitative"}
              }
            },
            {
              "mark": {"type": "text", "baseline": "alphabetic", "fontSize": 14, "color": "black", "dy": 0},
              "encoding": {
                "x": {"field": "g", "type": "nominal", "sort": ["Untreated", "TGF-β₂ treated"]},
                "y": {"field": "hi", "type": "quantitative"},
                "text": {"field": "sig"}
              }
            }
          ]
        }
      ]
    }
  ]
}
